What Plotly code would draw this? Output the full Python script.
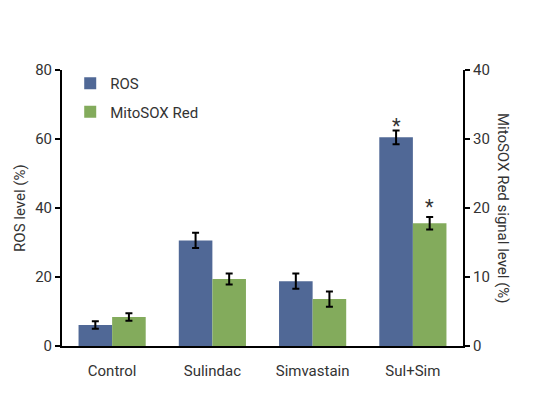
import plotly.graph_objects as go

categories = ["Control", "Sulindac", "Simvastain", "Sul+Sim"]
ros = [6.1, 30.6, 18.8, 60.5]
ros_err = [1.1, 2.2, 2.2, 2.0]
mito = [4.2, 9.7, 6.8, 17.8]
mito_err = [0.55, 0.8, 1.1, 0.9]
ros_sig = [False, False, False, True]
mito_sig = [False, False, False, True]

FONT = "Roboto, sans-serif"
TXT = "#333333"
BLUE = "#506896"
GREEN = "#83AB5C"

fig = go.Figure()
fig.add_trace(go.Bar(
    x=categories, y=ros, name="ROS", marker_color=BLUE, marker_line_width=0,
    offsetgroup="1", legendgroup="a",
    error_y=dict(type="data", array=ros_err, color="black", thickness=2, width=3.5),
    yaxis="y"))
fig.add_trace(go.Bar(
    x=categories, y=mito, name="MitoSOX Red", marker_color=GREEN, marker_line_width=0,
    offsetgroup="2", legendgroup="b",
    error_y=dict(type="data", array=mito_err, color="black", thickness=2, width=3.5),
    yaxis="y2"))

for c, v, e, s in zip(categories, ros, ros_err, ros_sig):
    if s:
        fig.add_annotation(x=c, y=v + e, xref="x", yref="y", text="*", showarrow=False,
                           xshift=-16.75, yanchor="bottom", yshift=-10,
                           font=dict(family=FONT, size=20, color=TXT))
for c, v, e, s in zip(categories, mito, mito_err, mito_sig):
    if s:
        fig.add_annotation(x=c, y=v + e, xref="x", yref="y2", text="*", showarrow=False,
                           xshift=16.75, yanchor="bottom", yshift=-4,
                           font=dict(family=FONT, size=20, color=TXT))

fig.add_annotation(text="ROS level (%)", xref="paper", yref="paper", x=-0.105, y=0.5,
                   textangle=-90, showarrow=False, xanchor="center", yanchor="middle",
                   font=dict(family=FONT, size=15, color=TXT))
fig.add_annotation(text="MitoSOX Red signal level (%)", xref="paper", yref="paper", x=1.1,
                   y=0.5, textangle=90, showarrow=False, xanchor="center", yanchor="middle",
                   font=dict(family=FONT, size=15, color=TXT))

fig.update_layout(
    width=560, height=403,
    margin=dict(l=54, r=105, t=62, b=65),
    paper_bgcolor="white", plot_bgcolor="white",
    barmode="group", bargap=0.33, bargroupgap=0,
    font=dict(family=FONT, size=15, color=TXT),
    showlegend=True,
    legend=dict(x=0.0205, y=1.011, xanchor="left", yanchor="top", bgcolor="rgba(0,0,0,0)",
                tracegroupgap=6, font=dict(family=FONT, size=15, color=TXT)),
    xaxis=dict(showline=True, linecolor="black", linewidth=2, ticks="", showgrid=False,
               ticklabelstandoff=10, tickfont=dict(size=15, color=TXT)),
    yaxis=dict(range=[0, 80], tickvals=[0, 20, 40, 60, 80], showline=True, linecolor="black",
               linewidth=2, ticks="outside", ticklen=5, tickwidth=2, tickcolor="black",
               showgrid=False, zeroline=False, tickfont=dict(size=15, color=TXT)),
    yaxis2=dict(range=[0, 40], tickvals=[0, 10, 20, 30, 40], overlaying="y", side="right",
                showline=True, linecolor="black", linewidth=2, ticks="outside", ticklen=5,
                tickwidth=2, tickcolor="black", showgrid=False, zeroline=False,
                tickfont=dict(size=15, color=TXT)),
)

fig.write_html("out.html")
